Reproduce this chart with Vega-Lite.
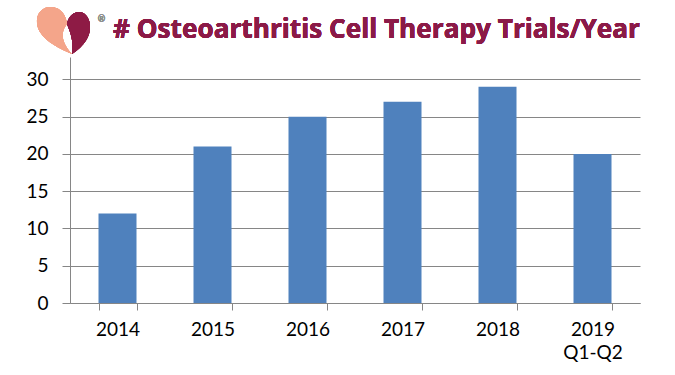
{
  "$schema": "https://vega.github.io/schema/vega-lite/v6.json",
  "autosize": "none",
  "width": 570,
  "height": 246,
  "padding": {"left": 70, "top": 57, "right": 35, "bottom": 72},
  "background": "white",
  "config": {
    "view": {"stroke": null},
    "axis": {"labelFont": "Lato", "labelColor": "#000000", "labelFontSize": 19, "domainColor": "#868686", "tickColor": "#868686", "gridColor": "#868686"}
  },
  "data": {"values": [
    {"year": "2014", "trials": 12},
    {"year": "2015", "trials": 21},
    {"year": "2016", "trials": 25},
    {"year": "2017", "trials": 27},
    {"year": "2018", "trials": 29},
    {"year": "2019 Q1-Q2", "trials": 20}
  ]},
  "layer": [
    {
      "mark": {"type": "bar", "color": "#4F81BD"},
      "encoding": {
        "x": {
          "field": "year", "type": "nominal", "sort": null,
          "scale": {"paddingInner": 0.6, "paddingOuter": 0.3},
          "axis": {"title": null, "labelAngle": 0, "tickBand": "extent", "tickSize": 7, "labelPadding": 10, "labelLineHeight": 23, "labelExpr": "split(datum.label, ' ')", "grid": false}
        },
        "y": {
          "field": "trials", "type": "quantitative",
          "scale": {"domain": [0, 33], "nice": false},
          "axis": {"title": null, "values": [0, 5, 10, 15, 20, 25, 30], "tickSize": 8, "labelPadding": 14, "grid": true, "gridWidth": 1}
        }
      }
    },
    {
      "mark": {"type": "point", "filled": true, "opacity": 1, "size": 4, "strokeWidth": 0, "color": "#F4A58A", "clip": false,
        "shape": "M -45.5 19.4 C -59.5 13.4 -79.5 3.4 -80.5 -11.6 C -81.5 -22.6 -73.5 -28.6 -65.5 -27.6 C -56.5 -26.6 -51.5 -19.6 -50.5 -10.6 C -55.5 -4.6 -58.5 5.4 -45.5 19.4 Z"},
      "encoding": {"x": {"datum": "2014", "type": "nominal"}, "y": {"datum": 36, "type": "quantitative"}}
    },
    {
      "mark": {"type": "point", "filled": true, "opacity": 1, "size": 4, "strokeWidth": 0, "color": "#8E1B45", "clip": false,
        "shape": "M -45.5 19.4 C -33.5 11.4 -26.5 1.4 -27.5 -9.6 C -28.5 -18.6 -33.5 -22.6 -38.5 -22.6 C -44.5 -22.6 -49.5 -17.6 -50.5 -10.6 C -47.5 -2.6 -43.5 5.4 -45.5 19.4 Z"},
      "encoding": {"x": {"datum": "2014", "type": "nominal"}, "y": {"datum": 36, "type": "quantitative"}}
    },
    {
      "mark": {"type": "text", "text": "®", "fontSize": 9, "color": "#8C8C8C", "dx": -16, "dy": -16, "font": "Lato"},
      "encoding": {"x": {"datum": "2014", "type": "nominal"}, "y": {"datum": 36, "type": "quantitative"}}
    },
    {
      "mark": {"type": "text", "text": "# Osteoarthritis Cell Therapy Trials/Year", "align": "left", "baseline": "alphabetic", "dx": -4.5, "dy": 3, "font": "Open Sans", "fontSize": 26.2, "fontWeight": "bold", "color": "#8B1A47"},
      "encoding": {"x": {"datum": "2014", "type": "nominal"}, "y": {"datum": 36, "type": "quantitative"}}
    }
  ]
}
